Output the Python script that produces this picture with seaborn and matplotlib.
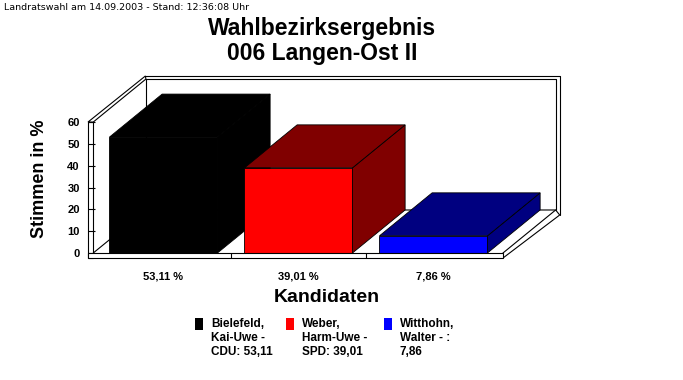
import numpy as np
import pandas as pd
import seaborn as sns
import matplotlib.pyplot as plt
from matplotlib.patches import Polygon, Rectangle

# Data
values = [53.11, 39.01, 7.86]
legend_labels = ["Bielefeld,\nKai-Uwe -\nCDU: 53,11",
                 "Weber,\nHarm-Uwe -\nSPD: 39,01",
                 "Witthohn,\nWalter - :\n7,86"]
front_colors = ["#000000", "#ff0000", "#0000ff"]
shade_colors = ["#000000", "#800000", "#000080"]
y_ticks = [0, 10, 20, 30, 40, 50, 60]

pct_labels = [f"{v:.2f}".replace(".", ",") + " %" for v in values]

df = pd.DataFrame({"cand": pct_labels, "val": values})

sns.set_style("white")
plt.rcParams["font.family"] = ["Liberation Sans", "DejaVu Sans"]
plt.rcParams["text.color"] = "black"
plt.rcParams["xtick.color"] = "black"
plt.rcParams["ytick.color"] = "black"

W, H = 683, 380
fig = plt.figure(figsize=(W / 100, H / 100), dpi=100)
ax = fig.add_axes([88 / W, 1 - 258 / H, (562 - 88) / W, (258 - 76) / H])

# 3D geometry (data units)
DX, DY = 0.39, 19.7          # depth offset
xl, x_in = -0.559, -0.52     # left wall outer / inner
xr = 2.515                   # floor right end
FT = 2.3                     # floor thickness
TOP = 60

sns.barplot(data=df, x="cand", y="val", hue="cand", palette=front_colors,
            saturation=1, width=0.8, legend=False, ax=ax,
            edgecolor="black", linewidth=0.6)
bars = sorted(list(ax.patches), key=lambda p: p.get_x())

ax.set_xlim(xl, 2.952)
ax.set_ylim(-FT, 81.1)

lw = 0.8
# back wall
ax.plot([x_in + DX, x_in + DX], [DY, TOP + DY], color="black", lw=lw, zorder=1)
ax.plot([x_in + DX, xr + DX, xr + DX], [TOP + DY, TOP + DY, DY], color="black", lw=lw, zorder=1)
ax.plot([xl + DX + 0.035, xr + DX + 0.03, xr + DX + 0.03],
        [TOP + DY + 1.4, TOP + DY + 1.4, DY - FT], color="black", lw=lw, zorder=1,
        clip_on=False)
# floor back and junction
ax.plot([x_in, x_in + DX, xr + DX], [0, DY, DY], color="black", lw=lw, zorder=1)
# left wall top face
ax.add_patch(Polygon([(xl, TOP), (x_in, TOP), (x_in + DX, TOP + DY), (xl + DX + 0.035, TOP + DY + 1.4)],
                     closed=True, facecolor="white", edgecolor="black", lw=lw, zorder=1.5,
                     clip_on=False))
# left wall front
ax.add_patch(Rectangle((xl, -FT), x_in - xl, TOP + FT, facecolor="none",
                       edgecolor="black", lw=lw, zorder=30, clip_on=False))
# floor right face
ax.add_patch(Polygon([(xr, -FT), (xr, 0), (xr + DX, DY), (xr + DX + 0.03, DY - FT)],
                     closed=True, facecolor="white", edgecolor="black", lw=lw, zorder=1.5))
# floor front strip
ax.add_patch(Rectangle((xl, -FT), xr - xl, FT, facecolor="white",
                       edgecolor="black", lw=lw, zorder=31, clip_on=False))
for b in [0.5, 1.5]:
    ax.plot([b, b], [-FT, 0], color="black", lw=lw, zorder=32, clip_on=False)

# 3D faces of the bars
for i, p in enumerate(bars):
    x0, w, h = p.get_x(), p.get_width(), p.get_height()
    c = shade_colors[i]
    top = [(x0, h), (x0 + w, h), (x0 + w + DX, h + DY), (x0 + DX, h + DY)]
    side = [(x0 + w, 0), (x0 + w, h), (x0 + w + DX, h + DY), (x0 + w + DX, DY)]
    ax.add_patch(Polygon(side, closed=True, facecolor=c, edgecolor="black", lw=0.6, zorder=2 + 2 * i))
    ax.add_patch(Polygon(top, closed=True, facecolor=c, edgecolor="black", lw=0.6, zorder=2 + 2 * i))
    p.set_zorder(3 + 2 * i)

for s in ax.spines.values():
    s.set_visible(False)

ax.set_yticks(y_ticks)
ax.set_yticklabels([str(t) for t in y_ticks], fontsize=8, fontweight="bold")
ax.tick_params(axis="y", direction="in", length=5, width=0.8, pad=6, left=True)
ax.set_xticks(range(len(values)))
ax.set_xticklabels(pct_labels, fontsize=8, fontweight="bold",
                   family=["Liberation Sans Narrow", "Liberation Sans"])
ax.tick_params(axis="x", length=0, pad=10)

ax.set_xlabel("")
ax.set_ylabel("")
fig.text(327 / W, 1 - 298 / H, "Kandidaten", ha="center", va="center",
         fontsize=14, fontweight="bold")
fig.text(39 / W, 1 - 179 / H, "Stimmen in %", ha="center", va="center",
         rotation=90, fontsize=13, fontweight="bold")

# title and header
fig.text(322 / W, 1 - 41 / H, "Wahlbezirksergebnis\n006 Langen-Ost II", ha="center",
         va="center", fontsize=16.5, fontweight="bold", linespacing=1.08)
fig.text(4 / W, 1 - 8 / H, "Landratswahl am 14.09.2003 - Stand: 12:36:08 Uhr",
         ha="left", va="center", fontsize=6.8, family=["DejaVu Sans"])

# legend
leg_x = [195, 286, 384]
for lx, lab, c in zip(leg_x, legend_labels, front_colors):
    fig.patches.append(Rectangle((lx / W, 1 - 330 / H), 8 / W, 12 / H, facecolor=c,
                                 edgecolor="none", transform=fig.transFigure, figure=fig))
    fig.text((lx + 16) / W, 1 - 318 / H, lab, ha="left", va="top", fontsize=8.5,
             fontweight="bold", linespacing=1.2)

fig.savefig("out.png", dpi=100)
